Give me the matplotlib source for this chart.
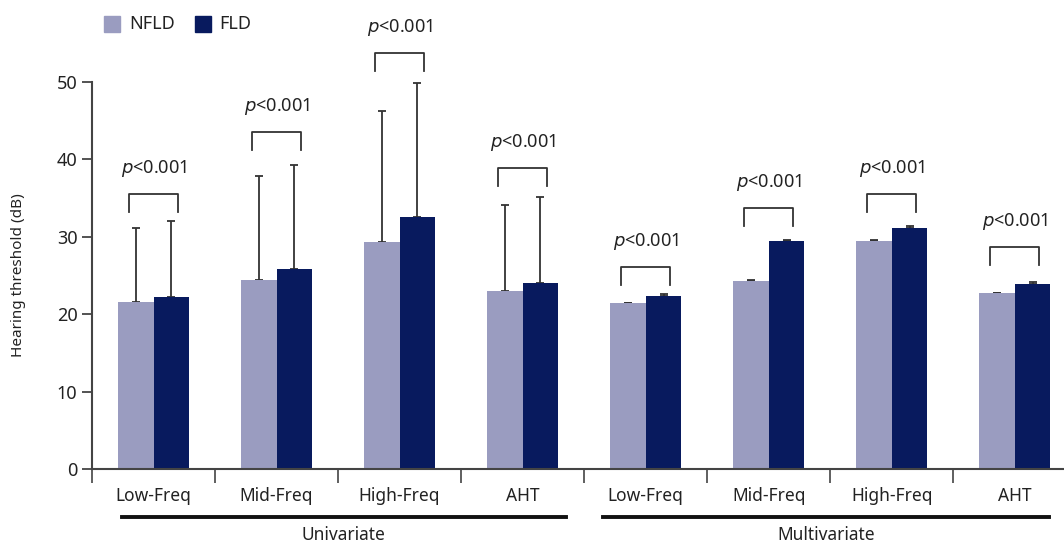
import numpy as np
import matplotlib
matplotlib.use('Agg')
import matplotlib.pyplot as plt
from matplotlib.patches import Rectangle

plt.rcParams['font.family'] = ['Noto Sans', 'DejaVu Sans']

categories = ['Low-Freq', 'Mid-Freq', 'High-Freq', 'AHT',
              'Low-Freq', 'Mid-Freq', 'High-Freq', 'AHT']
groups = ['Univariate', 'Multivariate']

nfld_mean = [21.6, 24.4, 29.3, 23.0, 21.4, 24.3, 29.5, 22.7]
fld_mean = [22.2, 25.8, 32.6, 24.0, 22.4, 29.5, 31.1, 23.9]
nfld_sd = [9.6, 13.4, 16.9, 11.1, 0.1, 0.1, 0.1, 0.1]
fld_sd = [9.8, 13.5, 17.3, 11.1, 0.2, 0.1, 0.25, 0.2]
p_labels = ['p<0.001'] * 8
bracket_top = [35.5, 43.5, 53.7, 38.9, 26.1, 33.7, 35.5, 28.7]

c_nfld = '#9a9cc0'
c_fld = '#081a5e'
edge = '#444444'

fig = plt.figure(figsize=(10.64, 5.45), dpi=100)
ax = fig.add_axes([92 / 1064, 1 - 469 / 545, 1 - 92 / 1064, (469 - 82) / 545])

x = np.arange(len(categories))
w = 0.29
ax.bar(x - w / 2, nfld_mean, w, color=c_nfld, zorder=2)
ax.bar(x + w / 2, fld_mean, w, color=c_fld, zorder=2)
ax.errorbar(x - w / 2, nfld_mean, yerr=[np.zeros(8), nfld_sd], fmt='none',
            ecolor='#333333', elinewidth=1.3, capsize=3, capthick=1.3, zorder=1)
ax.errorbar(x + w / 2, fld_mean, yerr=[np.zeros(8), fld_sd], fmt='none',
            ecolor='#333333', elinewidth=1.3, capsize=3, capthick=1.3, zorder=1)

# significance brackets
for i in range(len(categories)):
    top = bracket_top[i]
    ax.plot([i - 0.2, i - 0.2, i + 0.2, i + 0.2], [top - 2.3, top, top, top - 2.3],
            color='#333333', lw=1.3, clip_on=False)
    ax.text(i, top + 3.3, r'$\it{p}$<0.001', ha='center', va='center',
            fontsize=13, color='#222222', clip_on=False)

ax.set_xlim(-0.5, 7.4)
ax.set_ylim(0, 50)
ax.set_yticks([0, 10, 20, 30, 40, 50])
ax.tick_params(axis='y', labelsize=13, length=7, width=1.3, color=edge,
               labelcolor='#222222')

ax.set_xticks(x)
ax.set_xticklabels(categories, fontsize=12.5, color='#222222')
ax.tick_params(axis='x', which='major', length=0, pad=13)
ax.set_xticks(np.arange(-0.5, 7.0, 1.0), minor=True)
ax.tick_params(axis='x', which='minor', length=10, width=1.2, color=edge)

for s in ['top', 'right']:
    ax.spines[s].set_visible(False)
for s in ['left', 'bottom']:
    ax.spines[s].set_color(edge)
    ax.spines[s].set_linewidth(1.5)

ax.set_ylabel('Hearing threshold (dB)', fontsize=11, color='#222222',
              labelpad=22)

# group lines and labels
spans = [(-0.26, 3.35), (3.65, 7.28)]
for (a, b), g in zip(spans, groups):
    ax.plot([a, b], [-6.2, -6.2], color='#111111', lw=2.8, clip_on=False)
    ax.text((a + b) / 2, -8.5, g, ha='center', va='center', fontsize=12.5,
            color='#222222', clip_on=False)

# legend
fig.patches.append(Rectangle((104 / 1064, 1 - 32 / 545), 16 / 1064, 16 / 545,
                             transform=fig.transFigure, color=c_nfld))
fig.text(129 / 1064, 1 - 24 / 545, 'NFLD', fontsize=13, va='center',
         color='#222222')
fig.patches.append(Rectangle((195 / 1064, 1 - 32 / 545), 16 / 1064, 16 / 545,
                             transform=fig.transFigure, color=c_fld))
fig.text(219 / 1064, 1 - 24 / 545, 'FLD', fontsize=13, va='center',
         color='#222222')

fig.savefig('out.png', dpi=100)
